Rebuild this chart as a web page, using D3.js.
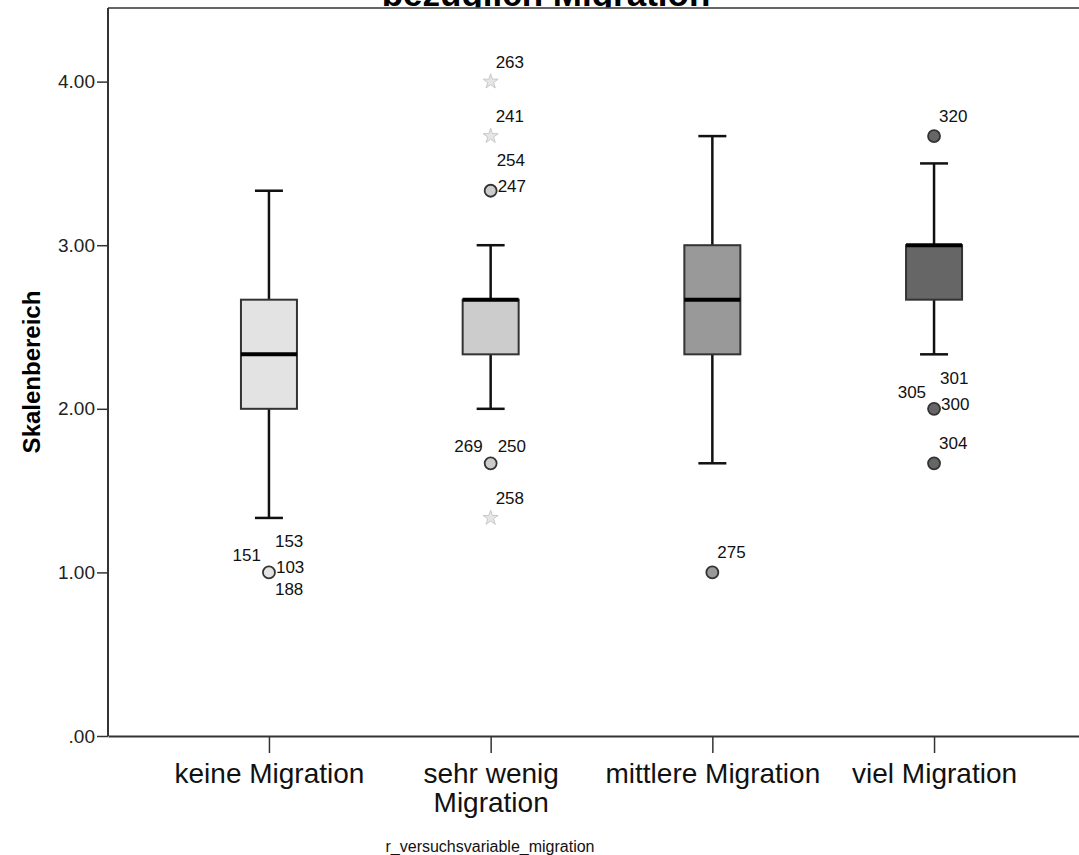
<!DOCTYPE html>
<html>
<head>
<meta charset="utf-8">
<script src="https://cdn.jsdelivr.net/npm/d3@7"></script>
<style>
  body { margin: 0; background: #fff; }
  text { font-family: Arial, "Liberation Sans", sans-serif; }
</style>
</head>
<body>
<div class="canvas"></div>
<script>
const categories = ['keine Migration', 'sehr wenig Migration', 'mittlere Migration', 'viel Migration']
const whiskerLow = [1.333, 2.0, 1.667, 2.333]
const q1 = [2.0, 2.333, 2.333, 2.667]
const median = [2.333, 2.667, 2.667, 3.0]
const q3 = [2.667, 2.667, 3.0, 3.0]
const whiskerHigh = [3.333, 3.0, 3.667, 3.5]
const boxFills = ['#e3e3e3', '#cccccc', '#999999', '#666666']

// outliers: group index, value, kind (o = outlier, * = extreme), case ids
const outlierGroup = [0, 1, 1, 1, 1, 1, 2, 3, 3, 3]
const outlierValue = [1.0, 4.0, 3.667, 3.333, 1.667, 1.333, 1.0, 3.667, 2.0, 1.667]
const outlierKind = ['o', '*', '*', 'o', 'o', '*', 'o', 'o', 'o', 'o']
const outlierIds = [
  ['151', '153', '103', '188'], ['263'], ['241'], ['254', '247'], ['269', '250'],
  ['258'], ['275'], ['320'], ['305', '301', '300'], ['304']
]

const yTicks = [0, 1, 2, 3, 4]
const title = 'bezüglich Migration'
const yTitle = 'Skalenbereich'
const xTitle = 'r_versuchsvariable_migration'

const width = 1079
const height = 855
const margin = { top: 8, left: 108, bottom: 119 }
const plotRight = 1095

const svg = d3.select('.canvas').append('svg')
  .attr('width', width)
  .attr('height', height)

const y = d3.scaleLinear()
  .domain([0, 4.45])
  .range([height - margin.bottom, margin.top])

const x = d3.scalePoint()
  .domain(categories)
  .range([margin.left, plotRight])
  .padding(0.726)

// title, only the bottom of it shows above the frame
svg.append('clipPath').attr('id', 'titleClip')
  .append('rect').attr('x', 0).attr('y', 0).attr('width', width).attr('height', 7.5)

svg.append('text')
  .attr('clip-path', 'url(#titleClip)')
  .attr('x', 546)
  .attr('y', 6)
  .attr('text-anchor', 'middle')
  .style('font-size', '35px')
  .style('font-weight', 'bold')
  .text(title)

// top frame line
svg.append('line')
  .attr('x1', margin.left).attr('x2', width)
  .attr('y1', margin.top).attr('y2', margin.top)
  .attr('stroke', '#333').attr('stroke-width', 1.5)

// axes
const yAxisGroup = svg.append('g')
  .attr('transform', `translate(${margin.left},0)`)
  .call(d3.axisLeft(y)
    .tickValues(yTicks)
    .tickSize(11)
    .tickPadding(2)
    .tickSizeOuter(0)
    .tickFormat(d => d === 0 ? '.00' : d3.format('.2f')(d)))

yAxisGroup.select('.domain').attr('stroke', '#333').attr('stroke-width', 2)
  .attr('d', `M0,${y(0)}V${margin.top}`)
yAxisGroup.selectAll('.tick line').attr('stroke', '#333').attr('stroke-width', 1.5)
yAxisGroup.selectAll('text')
  .style('font-size', '19px')
  .attr('fill', '#222')
  .attr('font-family', 'Arial, "Liberation Sans", sans-serif')

const xAxisGroup = svg.append('g')
  .attr('transform', `translate(0,${y(0)})`)
  .call(d3.axisBottom(x).tickSize(17).tickPadding(10).tickSizeOuter(0))

xAxisGroup.select('.domain').attr('stroke', '#333').attr('stroke-width', 2)
xAxisGroup.selectAll('.tick line').attr('stroke', '#333').attr('stroke-width', 1.5)
xAxisGroup.selectAll('text')
  .style('font-size', '28px')
  .attr('fill', '#111')
  .attr('font-family', 'Arial, "Liberation Sans", sans-serif')
  .call(wrap, x.step())

// break long category names onto a second line
function wrap (texts, w) {
  texts.each(function () {
    const text = d3.select(this)
    const words = text.text().split(' ')
    const ty = text.attr('y')
    text.text(null)
    let line = []
    let lineNo = 0
    let tspan = text.append('tspan').attr('x', 0).attr('y', ty).attr('dy', '0.71em')
    words.forEach(word => {
      line.push(word)
      tspan.text(line.join(' '))
      if (tspan.node().getComputedTextLength() > w && line.length > 1) {
        line.pop()
        tspan.text(line.join(' '))
        line = [word]
        lineNo++
        tspan = text.append('tspan').attr('x', 0).attr('y', ty)
          .attr('dy', (0.71 + lineNo * 1.05) + 'em')
          .text(word)
      }
    })
  })
}

// axis titles
svg.append('text')
  .attr('transform', `translate(40,${(margin.top + y(0)) / 2}) rotate(-90)`)
  .attr('text-anchor', 'middle')
  .style('font-size', '24px')
  .style('font-weight', 'bold')
  .text(yTitle)

svg.append('text')
  .attr('x', 490)
  .attr('y', 852)
  .attr('text-anchor', 'middle')
  .style('font-size', '16px')
  .attr('fill', '#111')
  .text(xTitle)

// boxes
const boxW = 56
const capW = 28

const boxes = svg.selectAll('g.box')
  .data(categories)
  .enter().append('g')
  .attr('class', 'box')

boxes.append('line')
  .attr('x1', d => x(d)).attr('x2', d => x(d))
  .attr('y1', (d, i) => y(whiskerLow[i])).attr('y2', (d, i) => y(q1[i]))
  .attr('stroke', '#111').attr('stroke-width', 2.5)

boxes.append('line')
  .attr('x1', d => x(d)).attr('x2', d => x(d))
  .attr('y1', (d, i) => y(q3[i])).attr('y2', (d, i) => y(whiskerHigh[i]))
  .attr('stroke', '#111').attr('stroke-width', 2.5)

boxes.append('line')
  .attr('x1', d => x(d) - capW / 2).attr('x2', d => x(d) + capW / 2)
  .attr('y1', (d, i) => y(whiskerLow[i])).attr('y2', (d, i) => y(whiskerLow[i]))
  .attr('stroke', '#111').attr('stroke-width', 2.5)

boxes.append('line')
  .attr('x1', d => x(d) - capW / 2).attr('x2', d => x(d) + capW / 2)
  .attr('y1', (d, i) => y(whiskerHigh[i])).attr('y2', (d, i) => y(whiskerHigh[i]))
  .attr('stroke', '#111').attr('stroke-width', 2.5)

boxes.append('rect')
  .attr('x', d => x(d) - boxW / 2)
  .attr('width', boxW)
  .attr('y', (d, i) => y(q3[i]))
  .attr('height', (d, i) => y(q1[i]) - y(q3[i]))
  .attr('fill', (d, i) => boxFills[i])
  .attr('stroke', '#333')
  .attr('stroke-width', 2)

boxes.append('line')
  .attr('x1', d => x(d) - boxW / 2).attr('x2', d => x(d) + boxW / 2)
  .attr('y1', (d, i) => y(median[i])).attr('y2', (d, i) => y(median[i]))
  .attr('stroke', '#000').attr('stroke-width', 4)

// outliers and their case labels
const outliers = outlierValue.map((v, i) => ({
  g: outlierGroup[i], value: v, kind: outlierKind[i], ids: outlierIds[i]
}))

const markers = svg.selectAll('g.outlier')
  .data(outliers)
  .enter().append('g')
  .attr('class', 'outlier')
  .attr('transform', d => `translate(${x(categories[d.g])},${y(d.value)})`)

markers.filter(d => d.kind === 'o').append('circle')
  .attr('r', 6)
  .attr('fill', d => boxFills[d.g])
  .attr('stroke', '#333')
  .attr('stroke-width', 1.8)

markers.filter(d => d.kind === '*').append('path')
  .attr('d', d3.symbol(d3.symbolStar, 70))
  .attr('fill', '#e6e6e6')
  .attr('stroke', '#c8c8c8')
  .attr('stroke-width', 1)

// label slots around the marker: [dx, dy, anchor]
const slot = {
  a: [5, -14, 'start'],
  ur: [6, -25, 'start'],
  r: [7, 1, 'start'],
  dr: [6, 23, 'start'],
  ul: [-8, -11, 'end'],
  ur2: [7, -11, 'start']
}
const labelSlot = {
  151: 'ul', 153: 'ur', 103: 'r', 188: 'dr',
  254: 'ur', 247: 'r', 269: 'ul', 250: 'ur2',
  305: 'ul', 301: 'ur', 300: 'r'
}

markers.selectAll('text')
  .data(d => d.ids)
  .enter().append('text')
  .attr('x', id => slot[labelSlot[id] || 'a'][0])
  .attr('y', id => slot[labelSlot[id] || 'a'][1])
  .attr('text-anchor', id => slot[labelSlot[id] || 'a'][2])
  .style('font-size', '17px')
  .attr('fill', '#111')
  .text(id => id)
</script>
</body>
</html>
